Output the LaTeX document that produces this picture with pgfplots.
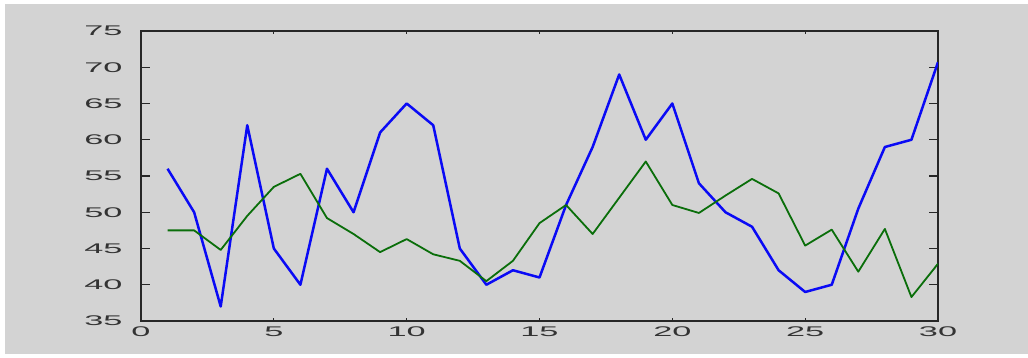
\documentclass[border=0pt]{standalone}
\usepackage{pgfplots}
\pgfplotsset{compat=1.18}
\usepackage{fontspec}
\setmainfont{Liberation Sans}
\definecolor{figgray}{RGB}{211,211,211}
\definecolor{lineblue}{RGB}{10,10,245}
\definecolor{linegreen}{RGB}{10,110,10}

\pgfplotstableread{
x  a   b
1  56  47.5
2  50  47.5
3  37  44.8
4  62  49.5
5  45  53.5
6  40  55.3
7  56  49.2
8  50  47.0
9  61  44.5
10 65  46.3
11 62  44.2
12 45  43.3
13 40  40.5
14 42  43.3
15 41  48.5
16 51  51.0
17 59  47.0
18 69  52.0
19 60  57.0
20 65  51.0
21 54  49.9
22 50  52.3
23 48  54.6
24 42  52.6
25 39  45.4
26 40  47.6
27 50.5 41.8
28 59  47.7
29 60  38.3
30 70.7 42.9
}\series

\begin{document}
\begin{tikzpicture}[x=1pt,y=1pt]
  % figure background with a thin white margin
  \fill[white] (0,0) rectangle (1028,358);
  \fill[figgray] (5,4) rectangle (1028,354);
  \path[use as bounding box] (0,0) rectangle (1028,358);
  \begin{axis}[
    at={(141pt,37pt)}, anchor=south west,
    scale only axis, width=797pt, height=290pt,
    xmin=0, xmax=30, ymin=35, ymax=75,
    xtick={0,5,...,30}, ytick={35,40,...,75},
    axis background/.style={fill=figgray},
    axis line style={black!85, line width=1.5pt},
    tick align=inside,
    tick style={black!85, line width=1.2pt},
    xtick pos=both, ytick pos=both,
    major tick length=3pt,
    ytick style={/pgfplots/major tick length=9pt},
    /pgf/number format/assume math mode=true,
    ticklabel style={font=\fontsize{14}{14}\selectfont, text=black!80, xscale=2.45},
    xticklabel style={yshift=-2pt},
    yticklabel style={xshift=-4pt},
  ]
    \addplot[lineblue, line width=2.5pt, line join=round] table[x=x, y=a] {\series};
    \addplot[linegreen, line width=1.8pt, line join=round] table[x=x, y=b] {\series};
  \end{axis}
\end{tikzpicture}
\end{document}
